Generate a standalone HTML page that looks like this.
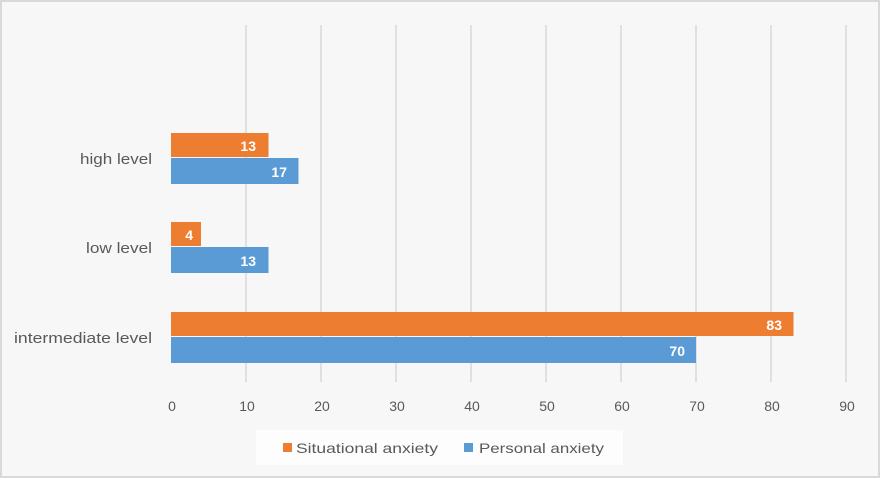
<!DOCTYPE html>
<html><head><style>
body{margin:0;background:#fff}
svg{display:block;font-family:"Liberation Sans",sans-serif}
</style></head><body>
<svg width="880" height="478" xmlns="http://www.w3.org/2000/svg">
<rect x="1" y="1" width="878" height="476" fill="#f7f7f7" stroke="#d9d9d9" stroke-width="2"/>
<g stroke="#d9d9d9" stroke-width="1.5">
<line x1="246" y1="25" x2="246" y2="382"/><line x1="321" y1="25" x2="321" y2="382"/>
<line x1="396" y1="25" x2="396" y2="382"/><line x1="471" y1="25" x2="471" y2="382"/>
<line x1="546" y1="25" x2="546" y2="382"/><line x1="621" y1="25" x2="621" y2="382"/>
<line x1="696" y1="25" x2="696" y2="382"/><line x1="771" y1="25" x2="771" y2="382"/>
<line x1="846" y1="25" x2="846" y2="382"/>
</g>
<g fill="#ed7d31">
<rect x="171" y="133" width="97.5" height="24"/>
<rect x="171" y="222" width="30" height="24"/>
<rect x="171" y="312" width="622.5" height="24"/>
</g>
<g fill="#5b9bd5">
<rect x="171" y="158" width="127.5" height="26"/>
<rect x="171" y="247" width="97.5" height="26"/>
<rect x="171" y="337" width="525" height="26"/>
</g>
<g fill="#fff" font-size="14" font-weight="bold" text-anchor="end">
<text x="256" y="151">13</text><text x="287" y="177">17</text>
<text x="193" y="240">4</text><text x="256" y="266">13</text>
<text x="782" y="330">83</text><text x="685" y="356">70</text>
</g>
<g fill="#595959" font-size="15">
<text x="80" y="164" textLength="72" lengthAdjust="spacingAndGlyphs">high level</text>
<text x="86" y="253" textLength="66" lengthAdjust="spacingAndGlyphs">low level</text>
<text x="14" y="343" textLength="138" lengthAdjust="spacingAndGlyphs">intermediate level</text>
</g>
<g fill="#595959" font-size="14" text-anchor="middle">
<text x="172" y="411">0</text><text x="247" y="411">10</text><text x="322" y="411">20</text>
<text x="397" y="411">30</text><text x="472" y="411">40</text><text x="547" y="411">50</text>
<text x="622" y="411">60</text><text x="697" y="411">70</text><text x="772" y="411">80</text>
<text x="847" y="411">90</text>
</g>
<rect x="256" y="430" width="367" height="35" fill="#fdfdfd"/>
<rect x="283" y="443" width="9" height="9" fill="#ed7d31"/>
<text x="296" y="453" font-size="14" fill="#595959" textLength="142" lengthAdjust="spacingAndGlyphs">Situational anxiety</text>
<rect x="464" y="443" width="9" height="9" fill="#5b9bd5"/>
<text x="479" y="453" font-size="14" fill="#595959" textLength="125" lengthAdjust="spacingAndGlyphs">Personal anxiety</text>
</svg>
</body></html>
